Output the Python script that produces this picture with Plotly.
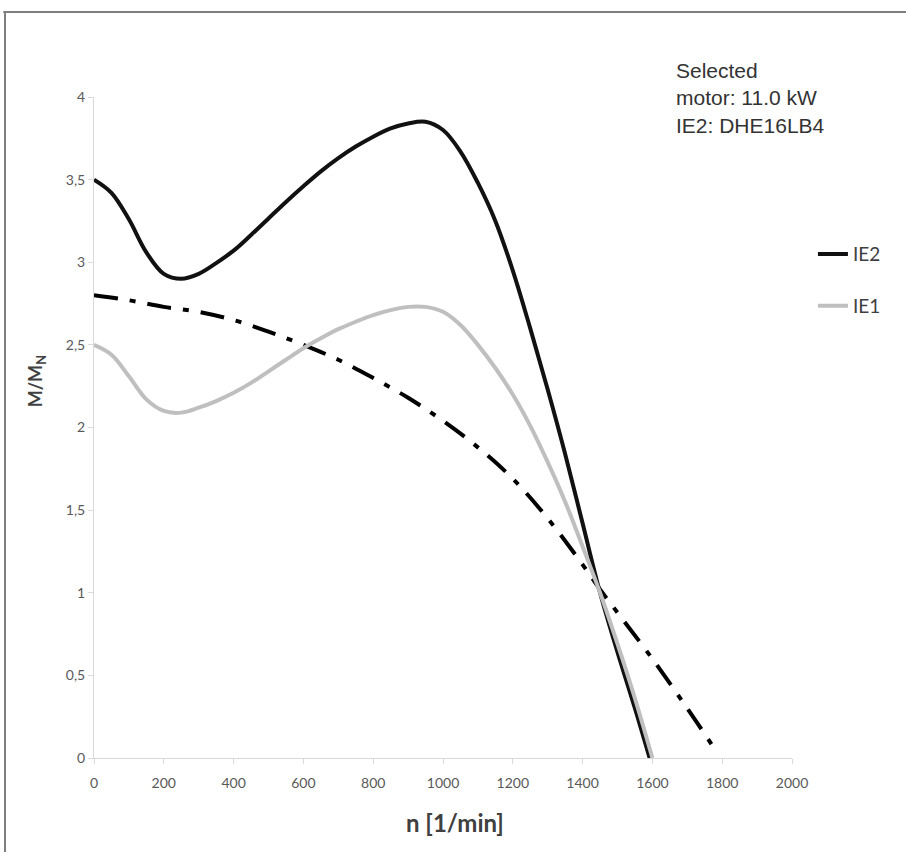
import plotly.graph_objects as go

# speed n [1/min] and torque ratio M/MN
n_ie2 = [0, 50, 100, 150, 200, 250, 300, 350, 400, 450, 500, 550, 600, 650, 700, 750,
         800, 850, 900, 950, 1000, 1050, 1100, 1150, 1200, 1250, 1300, 1350, 1400,
         1450, 1500, 1550, 1592]
m_ie2 = [3.5, 3.42, 3.26, 3.06, 2.93, 2.9, 2.93, 2.995, 3.07, 3.165, 3.265, 3.365, 3.46,
         3.55, 3.63, 3.70, 3.76, 3.81, 3.84, 3.85, 3.8, 3.67, 3.48, 3.25, 2.95, 2.6,
         2.23, 1.84, 1.42, 1.0, 0.64, 0.3, 0.0]

n_ie1 = [0, 50, 100, 150, 200, 250, 300, 350, 400, 450, 500, 550, 600, 650, 700, 750,
         800, 850, 900, 950, 1000, 1050, 1100, 1150, 1200, 1250, 1300, 1350, 1400,
         1450, 1500, 1550, 1600]
m_ie1 = [2.5, 2.44, 2.31, 2.17, 2.1, 2.09, 2.12, 2.16, 2.21, 2.27, 2.34, 2.41, 2.48,
         2.54, 2.595, 2.64, 2.68, 2.71, 2.73, 2.73, 2.7, 2.62, 2.5, 2.36, 2.2, 2.01,
         1.79, 1.55, 1.28, 1.0, 0.69, 0.36, 0.0]

n_load = [0, 100, 200, 300, 400, 500, 600, 700, 800, 900, 1000, 1100, 1200,
          1300, 1400, 1450, 1500, 1600, 1700, 1780]
m_load = [2.8, 2.77, 2.73, 2.7, 2.65, 2.58, 2.5, 2.41, 2.3, 2.18, 2.04, 1.88, 1.69,
          1.45, 1.17, 1.02, 0.88, 0.6, 0.3, 0.05]

x_ticks = [0, 200, 400, 600, 800, 1000, 1200, 1400, 1600, 1800, 2000]
y_ticks = [0, 0.5, 1, 1.5, 2, 2.5, 3, 3.5, 4]
y_ticktext = ["0", "0,5", "1", "1,5", "2", "2,5", "3", "3,5", "4"]

tick_font = dict(family="Lato, Carlito, sans-serif", size=14, color="#595959")
title_font = dict(family="Lato, Carlito, sans-serif", color="#404040")
axis_col = "#d9d9d9"

fig = go.Figure()

fig.add_trace(go.Scatter(
    x=n_load, y=m_load, mode="lines", line_shape="spline",
    line=dict(color="black", width=4, dash="24px,12px,6px,12px"),
    showlegend=False, hoverinfo="skip"
))
fig.add_trace(go.Scatter(
    x=n_ie2, y=m_ie2, mode="lines", line_shape="spline", name="IE2",
    line=dict(color="#111111", width=4), legendgroup="a"
))
fig.add_trace(go.Scatter(
    x=n_ie1, y=m_ie1, mode="lines", line_shape="spline", name="IE1",
    line=dict(color="#bfbfbf", width=4), legendgroup="b"
))

# outer frame (top and left edges only)
frame = dict(type="line", xref="paper", yref="paper", line=dict(color="#7f7f7f", width=2))
fig.add_shape(**frame, x0=-0.13, x1=1.17, y0=1.1286, y1=1.1286)
fig.add_shape(**frame, x0=-0.1275, x1=-0.1275, y0=1.1286, y1=-0.16)

fig.add_annotation(
    text="Selected<br>motor: 11.0 kW<br>IE2: DHE16LB4",
    xref="paper", yref="paper", x=0.831, y=1.061, xanchor="left", yanchor="top",
    align="left", showarrow=False,
    font=dict(family="Liberation Sans, Arial, sans-serif", size=21, color="#333333")
)
fig.add_annotation(
    text="<b>n [1/min]</b>", xref="paper", yref="paper", x=0.517, y=-0.097,
    xanchor="center", yanchor="middle", showarrow=False,
    font=dict(**title_font, size=24)
)
fig.add_annotation(
    text="<b>M/M<sub>N</sub></b>", xref="paper", yref="paper", x=-0.083, y=0.57,
    xanchor="center", yanchor="middle", textangle=-90, showarrow=False,
    font=dict(**title_font, size=18)
)

fig.update_layout(
    width=906, height=852,
    margin=dict(l=94, r=114, t=97, b=94),
    paper_bgcolor="white", plot_bgcolor="white",
    legend=dict(
        x=1.03, y=0.791, xanchor="left", yanchor="top",
        traceorder="grouped", tracegroupgap=24,
        font=dict(**title_font, size=19),
        bgcolor="rgba(0,0,0,0)"
    ),
    xaxis=dict(
        range=[0, 2000], tickvals=x_ticks, showgrid=False, zeroline=False,
        showline=True, linecolor=axis_col, linewidth=1, ticklabelstandoff=7,
        ticks="outside", ticklen=5, tickcolor=axis_col, tickfont=tick_font
    ),
    yaxis=dict(
        range=[0, 4], tickvals=y_ticks, ticktext=y_ticktext, showgrid=False, zeroline=False,
        showline=True, linecolor=axis_col, linewidth=1,
        ticks="outside", ticklen=5, tickcolor=axis_col, tickfont=tick_font
    ),
)

fig.write_html("out.html", config={"displayModeBar": False},
               post_script="document.body.style.margin='0px';")
